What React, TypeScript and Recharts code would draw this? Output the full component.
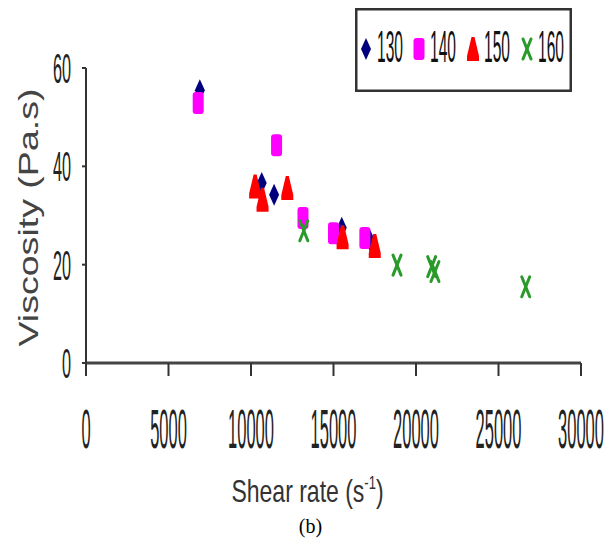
import React from "react";
import { ScatterChart, Scatter, XAxis, YAxis, Legend, Label } from "recharts";

const seriesNames = ["130", "140", "150", "160"];
const shear130 = [6900, 10650, 11400, 15500, 17200];
const visc130 = [55.5, 36.6, 34.2, 27.5, 25.0];
const shear140 = [6800, 11550, 13150, 15000, 16900];
const visc140 = [52.9, 44.3, 29.5, 26.4, 25.4];
const shear150 = [10250, 10700, 12200, 15550, 17500];
const visc150 = [35.9, 33.2, 35.6, 25.6, 23.8];
const shear160 = [13200, 18850, 20950, 21150, 26650];
const visc160 = [26.9, 19.9, 19.6, 18.6, 15.5];
const xTicks = [0, 5000, 10000, 15000, 20000, 25000, 30000];
const yTicks = [0, 20, 40, 60];

const colors = ["#00007f", "#ff00ff", "#ff0000", "#2a9a2a"];
const FONT = "'Liberation Sans', Arial, sans-serif";

const toPoints = (xs: number[], ys: number[]) => xs.map((x, i) => ({ x, y: ys[i] }));

function marker(kind: number, cx: number, cy: number) {
  const c = colors[kind];
  if (kind === 0)
    return <path d={`M${cx},${cy - 11} L${cx + 5},${cy} L${cx},${cy + 11} L${cx - 5},${cy} Z`} fill={c} />;
  if (kind === 1) return <rect x={cx - 5.5} y={cy - 11} width={11} height={22} rx={3} fill={c} />;
  if (kind === 2)
    return (
      <path
        d={`M${cx - 1.5},${cy - 12} L${cx + 1.5},${cy - 12} L${cx + 6},${cy + 7} L${cx + 6},${cy + 12} L${cx - 6},${cy + 12} L${cx - 6},${cy + 7} Z`}
        fill={c}
      />
    );
  return (
    <g stroke={c} strokeWidth={3} strokeLinecap="round">
      <line x1={cx - 4} y1={cy - 10} x2={cx + 4} y2={cy + 10} />
      <line x1={cx + 4} y1={cy - 10} x2={cx - 4} y2={cy + 10} />
    </g>
  );
}

const shapeFor = (kind: number) => (props: any) => marker(kind, props.cx, props.cy);

function XTick({ x, y, payload }: any) {
  return (
    <text
      transform={`translate(${x},${y + 70}) scale(1,3.4)`}
      textAnchor="middle"
      fontSize={16.5}
      fontFamily={FONT}
      fill="#222"
    >
      {payload.value}
    </text>
  );
}

function YTick({ x, y, payload }: any) {
  return (
    <text
      transform={`translate(${x - 9},${y + 15}) scale(1,2.6)`}
      textAnchor="end"
      fontSize={16.2}
      fontFamily={FONT}
      fill="#222"
    >
      {payload.value}
    </text>
  );
}

function LegendBox() {
  const slots = [11, 64, 118, 172];
  return (
    <svg width={217} height={84}>
      <rect x={1.25} y={1.25} width={214.5} height={81.5} fill="#fff" stroke="#333" strokeWidth={2.5} />
      {seriesNames.map((name, i) => (
        <g key={name}>
          {marker(i, slots[i], 41)}
          <text
            transform={`translate(${slots[i] + 11},54) scale(1,2.85)`}
            fontSize={15.6}
            fontFamily={FONT}
            fill="#111"
          >
            {name}
          </text>
        </g>
      ))}
    </svg>
  );
}

function XTitle({ viewBox }: any) {
  const cx = viewBox.x + viewBox.width / 2;
  const base = viewBox.y;
  return (
    <g>
      <text
        transform={`translate(${cx - 26},${base + 139}) scale(1,1.4)`}
        textAnchor="middle"
        fontSize={23}
        fontFamily={FONT}
        fill="#333"
      >
        Shear rate (s
        <tspan fontSize={13} dy={-9}>-1</tspan>
        <tspan dy={9}>)</tspan>
      </text>
      <text
        x={cx - 23}
        y={base + 170}
        textAnchor="middle"
        fontSize={20}
        fontFamily="'Liberation Serif', 'Times New Roman', serif"
        fill="#000"
      >
        (b)
      </text>
    </g>
  );
}

function YTitle({ viewBox }: any) {
  const cy = viewBox.y + viewBox.height / 2;
  return (
    <text
      transform={`translate(38,${cy + 2}) rotate(-90)`}
      textAnchor="middle"
      fontSize={28}
      fontFamily={FONT}
      fill="#444"
      textLength={258}
      lengthAdjust="spacingAndGlyphs"
    >
      Viscosity (Pa.s)
    </text>
  );
}

export default function App() {
  return (
    <div style={{ position: "absolute", left: 0, top: 0, width: 615, height: 540, background: "#fff" }}>
      <ScatterChart width={615} height={540} margin={{ top: 68, right: 34, bottom: 33, left: 0 }}>
        <XAxis
          type="number"
          dataKey="x"
          domain={[0, 30000]}
          ticks={xTicks}
          interval={0}
          height={60}
          tickSize={13}
          tickMargin={2}
          stroke="#444"
          axisLine={{ stroke: "#444", strokeWidth: 3 }}
          tickLine={{ stroke: "#333", strokeWidth: 2 }}
          tick={<XTick />}
        >
          <Label content={<XTitle />} />
        </XAxis>
        <YAxis
          type="number"
          dataKey="y"
          domain={[0, 60]}
          ticks={yTicks}
          interval={0}
          width={86}
          tickSize={4}
          tickMargin={2}
          axisLine={{ stroke: "#333", strokeWidth: 2 }}
          tickLine={{ stroke: "#333", strokeWidth: 2 }}
          tick={<YTick />}
        >
          <Label content={<YTitle />} />
        </YAxis>
        <Legend
          content={<LegendBox />}
          wrapperStyle={{ position: "absolute", left: 355, top: 8, width: 217, height: 84 }}
        />
        <Scatter name="130" data={toPoints(shear130, visc130)} shape={shapeFor(0)} isAnimationActive={false} />
        <Scatter name="140" data={toPoints(shear140, visc140)} shape={shapeFor(1)} isAnimationActive={false} />
        <Scatter name="150" data={toPoints(shear150, visc150)} shape={shapeFor(2)} isAnimationActive={false} />
        <Scatter name="160" data={toPoints(shear160, visc160)} shape={shapeFor(3)} isAnimationActive={false} />
      </ScatterChart>
    </div>
  );
}
